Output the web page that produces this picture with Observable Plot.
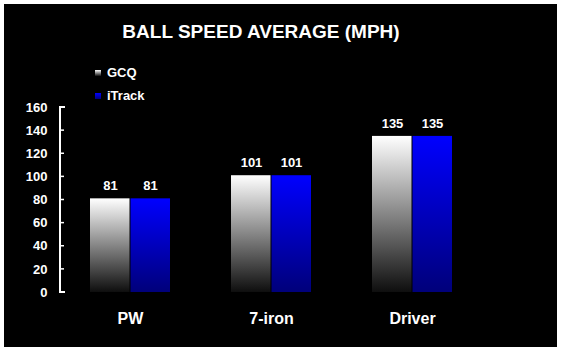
<!DOCTYPE html>
<html>
<head>
<meta charset="utf-8">
<script src="https://cdn.jsdelivr.net/npm/d3@7"></script>
<script src="https://cdn.jsdelivr.net/npm/@observablehq/plot@0.6"></script>
<style>
  html, body { margin: 0; padding: 0; background: #ffffff; }
  #wrap { position: absolute; left: 4px; top: 4px; width: 553px; height: 343px; background: #000; overflow: hidden;
          font-family: "Liberation Sans", Arial, sans-serif; font-weight: bold; color: #fff; }
  #title { position: absolute; left: 0; top: 17px; width: 514px; text-align: center; font-size: 19px; line-height: 22px; }
  .leg { position: absolute; left: 91px; font-size: 13px; line-height: 16px; display: flex; align-items: center; }
  .sw { width: 6px; height: 6px; margin-right: 6px; }
  #chart { position: absolute; left: 0; top: 0; }
</style>
</head>
<body>
<div id="wrap">
  <div id="chart"></div>
  <div id="title">BALL SPEED AVERAGE (MPH)</div>
  <div class="leg" style="top:61px"><div class="sw" style="background:linear-gradient(#fff,#111)"></div>GCQ</div>
  <div class="leg" style="top:84px"><div class="sw" style="background:linear-gradient(#0000ff,#000080)"></div>iTrack</div>
</div>
<script>
const categories = ["PW", "7-iron", "Driver"];
const gcq = [81, 101, 135];
const itrack = [81, 101, 135];
const yTicks = [0, 20, 40, 60, 80, 100, 120, 140, 160];

const rows = categories.map((c, i) => ({category: c, gcq: gcq[i], itrack: itrack[i]}));

const defs = () => {
  const d = d3.create("svg:defs");
  const g1 = d.append("linearGradient").attr("id", "gGCQ").attr("x1", 0).attr("y1", 0).attr("x2", 0).attr("y2", 1);
  g1.append("stop").attr("offset", "0%").attr("stop-color", "#ffffff");
  g1.append("stop").attr("offset", "100%").attr("stop-color", "#0e0e0e");
  const g2 = d.append("linearGradient").attr("id", "gIT").attr("x1", 0).attr("y1", 0).attr("x2", 0).attr("y2", 1);
  g2.append("stop").attr("offset", "0%").attr("stop-color", "#0000ff");
  g2.append("stop").attr("offset", "100%").attr("stop-color", "#00007a");
  return d.node();
};

const axisLine = (index, scales, values, dims) => {
  const x0 = dims.marginLeft;
  const y = scales.y;
  const g = d3.create("svg:g").attr("stroke", "#fff").attr("fill", "none");
  const top = y(yTicks[yTicks.length - 1]), bot = y(yTicks[0]);
  g.append("path").attr("stroke-width", 2)
    .attr("d", `M${x0 + 5},${top}H${x0}V${bot}H${x0 + 5}`);
  for (const t of yTicks) {
    g.append("line").attr("stroke-width", 1.5).attr("x1", x0).attr("x2", x0 + 4).attr("y1", y(t)).attr("y2", y(t));
  }
  return g.node();
};

const chart = Plot.plot({
  width: 553,
  height: 343,
  marginLeft: 56,
  marginRight: 74,
  marginTop: 103,
  marginBottom: 55,
  style: {background: "black", color: "white", fontFamily: "'Liberation Sans', Arial, sans-serif", fontWeight: "bold", fontSize: "13px"},
  x: {domain: categories, paddingInner: 0.4326, paddingOuter: 0.2163, label: null},
  y: {domain: [0, 160], label: null},
  marks: [
    defs,
    Plot.barY(rows, {x: "category", y: "gcq", fill: "url(#gGCQ)", insetRight: 40.5}),
    Plot.barY(rows, {x: "category", y: "itrack", fill: "url(#gIT)", insetLeft: 40.5}),
    Plot.text(rows, {x: "category", y: "gcq", text: d => String(d.gcq), dx: -20, dy: -13, fill: "white", fontSize: 13, fontWeight: "bold"}),
    Plot.text(rows, {x: "category", y: "itrack", text: d => String(d.itrack), dx: 20, dy: -13, fill: "white", fontSize: 13, fontWeight: "bold"}),
    Plot.axisY({ticks: yTicks, tickSize: 0, tickPadding: 13, label: null, fill: "white", fontSize: 13, fontWeight: "bold"}),
    Plot.axisX({tickSize: 0, tickPadding: 20, label: null, fill: "white", fontSize: 16, fontWeight: "bold"}),
    axisLine
  ]
});
document.getElementById("chart").appendChild(chart);
</script>
</body>
</html>
